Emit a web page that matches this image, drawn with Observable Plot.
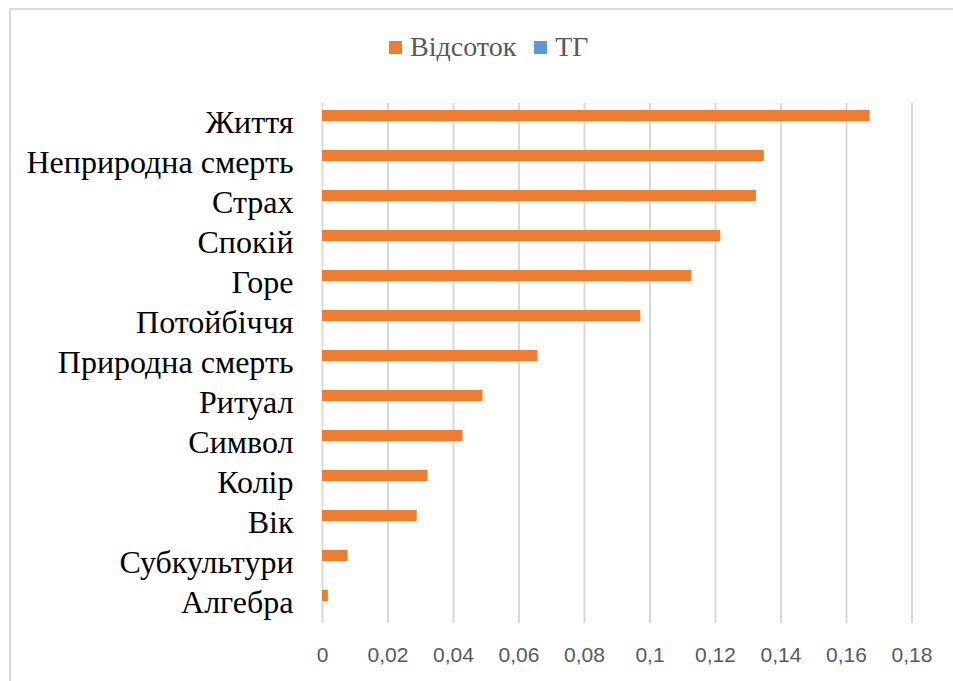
<!DOCTYPE html>
<html>
<head>
<meta charset="utf-8">
<script src="https://cdn.jsdelivr.net/npm/d3@7"></script>
<script src="https://cdn.jsdelivr.net/npm/@observablehq/plot@0.6"></script>
<style>
  html, body { margin: 0; padding: 0; background: #fff; overflow: hidden; width: 953px; height: 681px; }
  #frame { position: absolute; left: 9px; top: 8px; width: 2000px; height: 2000px; border: 2px solid #d9d9d9; box-sizing: border-box; }
  #legend { position: absolute; left: 389px; top: 31px; display: flex; align-items: center; font-family: "Liberation Serif", serif; font-size: 28px; color: #595959; white-space: nowrap; }
  .sw { display: inline-block; width: 13px; height: 13px; margin-right: 8px; }
  .item { display: flex; align-items: center; margin-right: 18px; }
  #chart { position: absolute; left: 0; top: 80px; }
</style>
</head>
<body>
<div id="frame"></div>
<div id="legend"></div>
<div id="chart"></div>
<script>
const categories = ["Життя", "Неприродна смерть", "Страх", "Спокій", "Горе", "Потойбіччя", "Природна смерть", "Ритуал", "Символ", "Колір", "Вік", "Субкультури", "Алгебра"];
const percentValues = [0.1672, 0.1349, 0.1325, 0.1216, 0.1128, 0.0972, 0.0658, 0.0490, 0.0429, 0.0322, 0.0289, 0.0078, 0.0018];
const tgValues = [0, 0, 0, 0, 0, 0, 0, 0, 0, 0, 0, 0, 0];
const seriesNames = ["Відсоток", "ТГ"];
const seriesColors = ["#ED7D31", "#5B9BD5"];
const xTicks = [0, 0.02, 0.04, 0.06, 0.08, 0.1, 0.12, 0.14, 0.16, 0.18];

const rows = [];
categories.forEach((c, i) => {
  rows.push({category: c, series: seriesNames[0], value: percentValues[i]});
  rows.push({category: c, series: seriesNames[1], value: tgValues[i]});
});

const legend = document.getElementById("legend");
seriesNames.forEach((s, i) => {
  const item = document.createElement("span");
  item.className = "item";
  const sw = document.createElement("span");
  sw.className = "sw";
  sw.style.background = seriesColors[i];
  item.appendChild(sw);
  item.appendChild(document.createTextNode(s));
  legend.appendChild(item);
});

const fmt = d => String(d).replace(".", ",");

const chart = Plot.plot({
  width: 953,
  height: 601,
  marginLeft: 322,
  marginRight: 41.5,
  marginTop: 20,
  marginBottom: 56,
  style: {background: "transparent", overflow: "visible"},
  x: {domain: [0, 0.18]},
  y: {domain: seriesNames, paddingInner: 0, paddingOuter: 0.68, align: 0.4, axis: null},
  fy: {domain: categories, padding: 0},
  color: {domain: seriesNames, range: seriesColors},
  marks: [
    Plot.gridX(xTicks, {stroke: "#d9d9d9", strokeOpacity: 1, strokeWidth: 2}),
    Plot.barX(rows, {x: "value", y: "series", fy: "category", fill: "series"}),
    Plot.axisX(xTicks, {tickSize: 0, tickPadding: 24, fontSize: 21, fontFamily: "Liberation Sans, sans-serif", fill: "#595959", tickFormat: fmt, label: null}),
    Plot.axisFy({anchor: "left", tickSize: 0, tickPadding: 29, fontSize: 32, dy: -1, fontFamily: "Liberation Serif, serif", fill: "#000", label: null})
  ]
});
document.getElementById("chart").appendChild(chart);
</script>
</body>
</html>
